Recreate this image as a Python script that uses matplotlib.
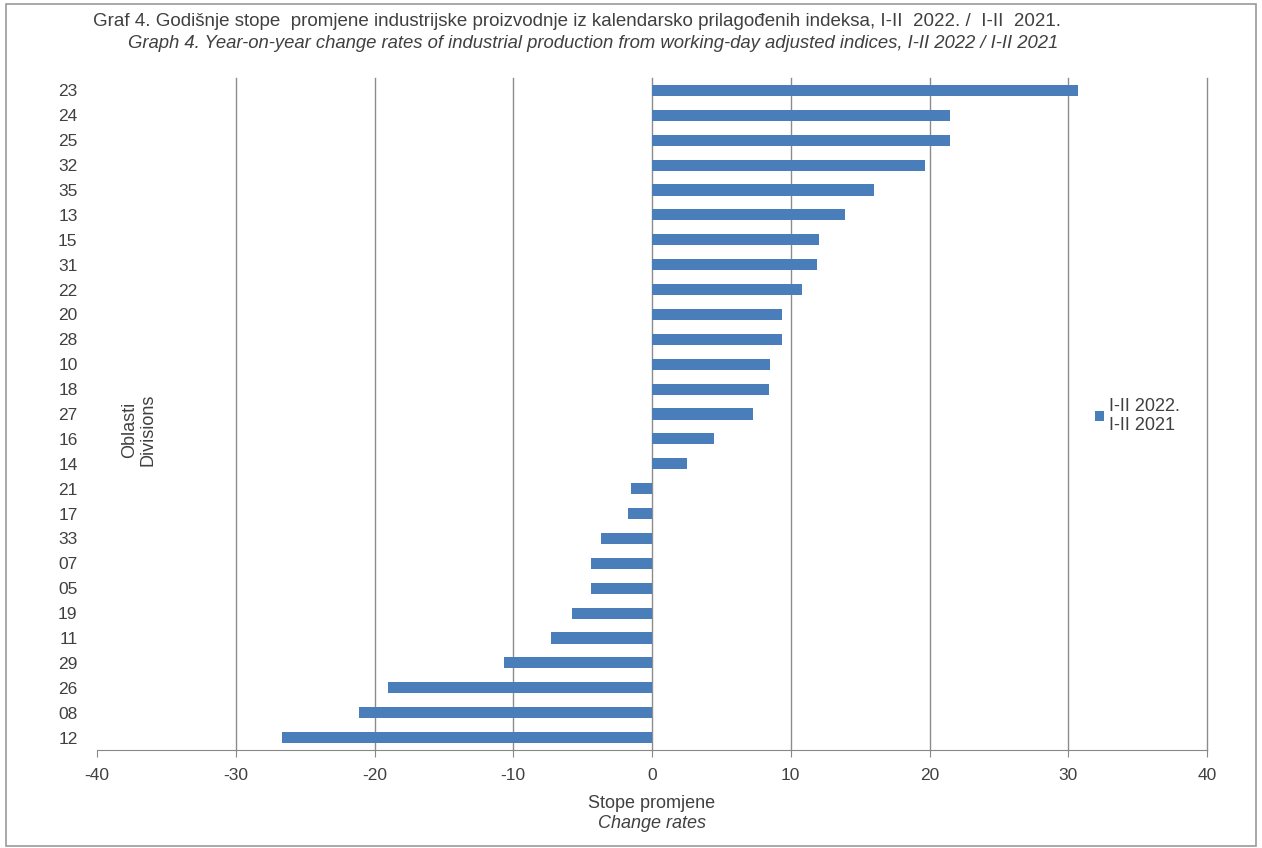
import matplotlib.pyplot as plt
from matplotlib.patches import Rectangle

plt.rcParams['font.family'] = ['Liberation Sans', 'DejaVu Sans']
plt.rcParams['axes.unicode_minus'] = False

# Oblasti / divisions (top to bottom) and their change rates
divisions = ['23', '24', '25', '32', '35', '13', '15', '31', '22', '20', '28', '10', '18', '27',
             '16', '14', '21', '17', '33', '07', '05', '19', '11', '29', '26', '08', '12']
rates = [30.7, 21.5, 21.5, 19.7, 16.0, 13.9, 12.0, 11.9, 10.8, 9.4, 9.4, 8.5, 8.4, 7.3,
         4.5, 2.5, -1.5, -1.7, -3.7, -4.4, -4.4, -5.8, -7.3, -10.7, -19.0, -21.1, -26.7]
x_ticks = [-40, -30, -20, -10, 0, 10, 20, 30, 40]

txt = '#404040'
fs = 13
fig = plt.figure(figsize=(12.62, 8.48), dpi=100)
ax = fig.add_axes([97/1262, 1 - 750/848, (1207-97)/1262, (750-78)/848])

y = list(range(len(divisions)))[::-1]
ax.barh(y, rates, height=0.45, color='#4a7ebb', label='I-II 2022.\nI-II 2021', zorder=3)

ax.set_xlim(-40, 40)
ax.set_ylim(-0.5, len(divisions) - 0.5)
ax.set_xticks(x_ticks)
ax.set_yticks(y)
ax.set_yticklabels(divisions)
ax.tick_params(axis='y', length=0, labelsize=12.5, labelcolor=txt, pad=14)
ax.tick_params(axis='x', length=5, color='#888888', labelsize=12.5, labelcolor=txt, pad=8)
for t in x_ticks[1:]:
    ax.axvline(t, color='#8c8c8c', linewidth=1, zorder=1, clip_on=False)
for s in ['top', 'right', 'left']:
    ax.spines[s].set_visible(False)
ax.spines['bottom'].set_color('#888888')

# titles
fig.text(577/1262, 1 - 21/848, 'Graf 4. Godišnje stope  promjene industrijske proizvodnje iz kalendarsko prilagođenih indeksa, I-II  2022. /  I-II  2021.',
         ha='center', va='center', fontsize=13.5, color=txt)
fig.text(593/1262, 1 - 43/848, 'Graph 4. Year-on-year change rates of industrial production from working-day adjusted indices, I-II 2022 / I-II 2021',
         ha='center', va='center', fontsize=13.3, color=txt, style='italic')

# axis labels
fig.text(652/1262, 1 - 803/848, 'Stope promjene', ha='center', va='center', fontsize=fs, color=txt)
fig.text(652/1262, 1 - 824/848, 'Change rates', ha='center', va='center', fontsize=fs, color=txt, style='italic')
fig.text(139/1262, 1 - 430/848, 'Oblasti\nDivisions', ha='center', va='center', fontsize=fs,
         color=txt, rotation=90, linespacing=1.1)

ax.legend(loc='center left', bbox_to_anchor=(1086/1262, 1 - 416/848), bbox_transform=fig.transFigure,
          frameon=False, fontsize=fs, labelcolor=txt, handlelength=0.5, handleheight=0.5,
          handletextpad=0.25, borderpad=0)

# outer frame
fig.patches.append(Rectangle((6/1262, 2/848), 1250/1262, 842/848, transform=fig.transFigure,
                             fill=False, edgecolor='#9a9a9a', linewidth=1.2))

fig.savefig('out.png', dpi=100)
